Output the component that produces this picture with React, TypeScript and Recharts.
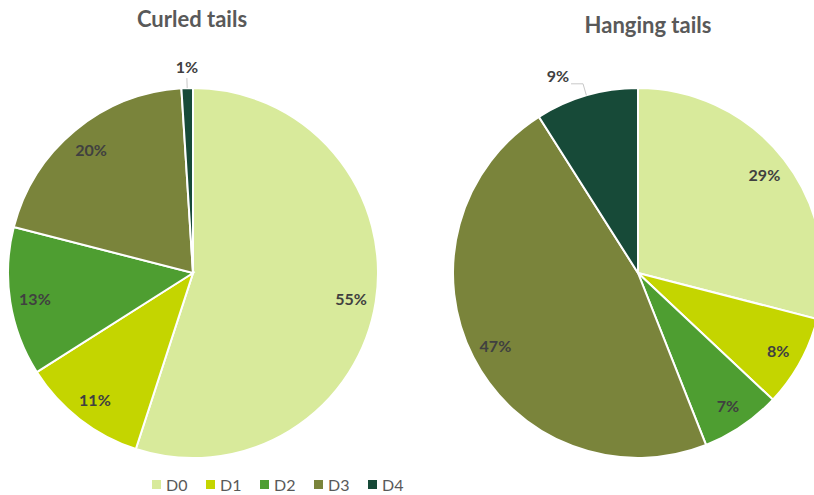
import { PieChart, Pie, Cell } from 'recharts';

const categories = ['D0', 'D1', 'D2', 'D3', 'D4'];
const curledValues = [55, 11, 13, 20, 1];
const hangingValues = [29, 8, 7, 47, 9];
const colors = ['#D8EA9B', '#C4D500', '#4E9E31', '#7A843B', '#174A38'];

const RAD = Math.PI / 180;
const labelColor = '#404040';
const fontFamily = 'Lato, "Open Sans", sans-serif';

const curledData = categories.map((name, i) => ({ name, value: curledValues[i] }));
const hangingData = categories.map((name, i) => ({ name, value: hangingValues[i] }));

function renderLabel(props: any) {
  const { cx, cy, midAngle, outerRadius, percent, index } = props;
  const cos = Math.cos(-midAngle * RAD);
  const sin = Math.sin(-midAngle * RAD);
  const text = `${Math.round(percent * 100)}%`;

  // small dark slice gets an outside label with a leader line
  if (index === 4) {
    const x1 = cx + outerRadius * cos;
    const y1 = cy + outerRadius * sin;
    if (Math.abs(cos) < 0.1) {
      const x2 = cx + (outerRadius + 10) * cos;
      const y2 = cy + (outerRadius + 10) * sin;
      return (
        <g>
          <path d={`M${x1},${y1}L${x2},${y2}`} stroke="#C8C8C8" fill="none" />
          <text x={x2} y={y2 - 5} textAnchor="middle" fill={labelColor}
            style={{ fontSize: 16, fontWeight: 700, fontFamily }}>{text}</text>
        </g>
      );
    }
    const x2 = cx + (outerRadius + 12) * cos;
    const y2 = cy + (outerRadius + 12) * sin;
    const x3 = x2 + (cos > 0 ? 12 : -12);
    return (
      <g>
        <path d={`M${x1},${y1}L${x2},${y2}L${x3},${y2}`} stroke="#C8C8C8" fill="none" />
        <text x={x3 + (cos > 0 ? 2 : -2)} y={y2 - 2} textAnchor={cos > 0 ? 'start' : 'end'}
          fill={labelColor} style={{ fontSize: 16, fontWeight: 700, fontFamily }}>{text}</text>
      </g>
    );
  }

  const r = outerRadius * 0.865;
  return (
    <text x={cx + r * cos} y={cy + r * sin} textAnchor="middle" dominantBaseline="central"
      fill={labelColor} style={{ fontSize: 16, fontWeight: 700, fontFamily }}>
      {text}
    </text>
  );
}

export default function App() {
  return (
    <div style={{ position: 'absolute', left: 0, top: 0, width: 814, height: 495, overflow: 'hidden', background: '#fff', fontFamily }}>
      <div style={{ position: 'absolute', left: 92, width: 200, top: 5, textAlign: 'center', fontSize: 22, fontWeight: 700, color: '#595959' }}>
        Curled tails
      </div>
      <div style={{ position: 'absolute', left: 548, width: 200, top: 11, textAlign: 'center', fontSize: 22, fontWeight: 700, color: '#595959' }}>
        Hanging tails
      </div>
      <PieChart width={830} height={495} margin={{ top: 0, right: 0, bottom: 0, left: 0 }}
        style={{ position: 'absolute', left: 0, top: 0 }}>
        <Pie data={curledData} dataKey="value" cx={193} cy={273} outerRadius={185}
          startAngle={90} endAngle={-270} stroke="#fff" strokeWidth={2}
          label={renderLabel} labelLine={false} isAnimationActive={false}>
          {curledData.map((_, i) => (
            <Cell key={`c-${i}`} fill={colors[i]} />
          ))}
        </Pie>
        <Pie data={hangingData} dataKey="value" cx={638} cy={273} outerRadius={185}
          startAngle={90} endAngle={-270} stroke="#fff" strokeWidth={2}
          label={renderLabel} labelLine={false} isAnimationActive={false}>
          {hangingData.map((_, i) => (
            <Cell key={`h-${i}`} fill={colors[i]} />
          ))}
        </Pie>
      </PieChart>
      <div style={{ position: 'absolute', top: 475, left: 152, display: 'flex' }}>
        {categories.map((name, i) => (
          <div key={name} style={{ display: 'flex', alignItems: 'center', width: 54, fontSize: 16, color: '#595959' }}>
            <span style={{ width: 9, height: 9, background: colors[i], marginRight: 5, display: 'inline-block' }} />
            {name}
          </div>
        ))}
      </div>
    </div>
  );
}
